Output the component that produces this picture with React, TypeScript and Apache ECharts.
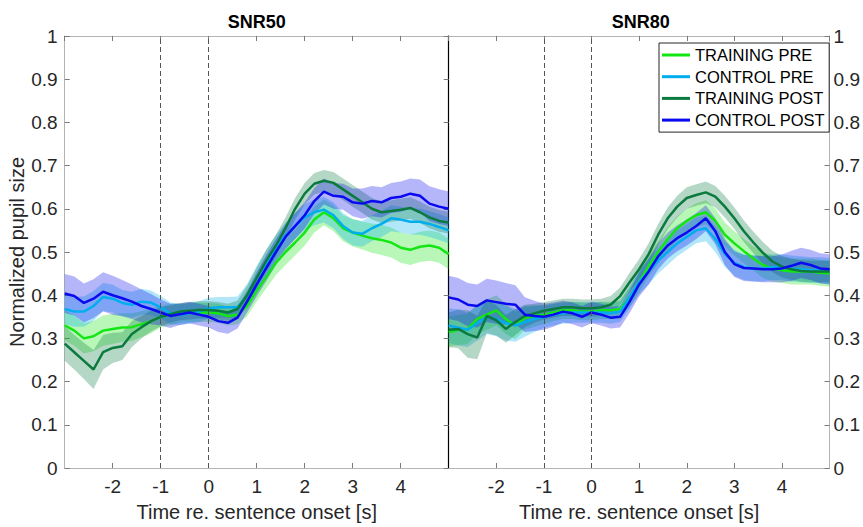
import React, { useEffect, useRef } from "react";
import * as echarts from "echarts";

const TIME = [-3, -2.8, -2.6, -2.4, -2.2, -2, -1.8, -1.6, -1.4, -1.2, -1, -0.8, -0.6, -0.4, -0.2, 0, 0.2, 0.4, 0.6, 0.8, 1, 1.2, 1.4, 1.6, 1.8, 2, 2.2, 2.4, 2.6, 2.8, 3, 3.2, 3.4, 3.6, 3.8, 4, 4.2, 4.4, 4.6, 4.8, 5];

const NAMES = ["TRAINING PRE", "CONTROL PRE", "TRAINING POST", "CONTROL POST"];
const COLORS = ["#14e614", "#00aeef", "#0a7a3e", "#0a0af0"];
const PANEL_TITLES = ["SNR50", "SNR80"];
const X_TICKS = [-2, -1, 0, 1, 2, 3, 4];
const MARKERS = [-1, 0];

// SNR50 means
const s50TrainPre = [0.330, 0.318, 0.300, 0.305, 0.318, 0.322, 0.325, 0.326, 0.333, 0.340, 0.350, 0.355, 0.358, 0.360, 0.360, 0.360, 0.358, 0.352, 0.355, 0.375, 0.410, 0.442, 0.475, 0.500, 0.522, 0.545, 0.575, 0.592, 0.578, 0.555, 0.545, 0.538, 0.532, 0.528, 0.522, 0.510, 0.505, 0.512, 0.515, 0.510, 0.495];
const s50CtrlPre = [0.368, 0.362, 0.362, 0.375, 0.396, 0.392, 0.382, 0.378, 0.385, 0.383, 0.372, 0.358, 0.355, 0.358, 0.362, 0.370, 0.372, 0.372, 0.372, 0.400, 0.440, 0.475, 0.510, 0.538, 0.560, 0.580, 0.592, 0.598, 0.585, 0.560, 0.545, 0.542, 0.555, 0.565, 0.578, 0.575, 0.570, 0.570, 0.565, 0.558, 0.550];
const s50TrainPost = [0.288, 0.268, 0.248, 0.228, 0.268, 0.278, 0.282, 0.310, 0.326, 0.340, 0.350, 0.356, 0.362, 0.364, 0.366, 0.366, 0.364, 0.360, 0.368, 0.400, 0.440, 0.480, 0.515, 0.555, 0.600, 0.635, 0.658, 0.665, 0.660, 0.645, 0.630, 0.615, 0.600, 0.592, 0.595, 0.598, 0.602, 0.592, 0.580, 0.572, 0.568];
const s50CtrlPost = [0.404, 0.398, 0.382, 0.392, 0.408, 0.400, 0.393, 0.385, 0.375, 0.368, 0.360, 0.352, 0.356, 0.360, 0.355, 0.350, 0.340, 0.336, 0.348, 0.385, 0.425, 0.463, 0.500, 0.535, 0.560, 0.585, 0.618, 0.640, 0.630, 0.628, 0.615, 0.612, 0.618, 0.615, 0.625, 0.628, 0.635, 0.630, 0.612, 0.605, 0.600];

// SNR50 half-widths of shaded error bands
const s50TrainPreErr = [0.035, 0.035, 0.035, 0.035, 0.035, 0.035, 0.033, 0.032, 0.030, 0.028, 0.025, 0.025, 0.022, 0.022, 0.022, 0.022, 0.022, 0.022, 0.022, 0.024, 0.025, 0.026, 0.028, 0.030, 0.030, 0.030, 0.030, 0.030, 0.030, 0.030, 0.032, 0.032, 0.034, 0.035, 0.035, 0.035, 0.035, 0.035, 0.035, 0.035, 0.035];
const s50CtrlPreErr = [0.035, 0.035, 0.035, 0.035, 0.033, 0.032, 0.030, 0.030, 0.030, 0.028, 0.026, 0.025, 0.024, 0.024, 0.024, 0.024, 0.024, 0.024, 0.025, 0.026, 0.028, 0.030, 0.030, 0.030, 0.030, 0.030, 0.030, 0.030, 0.030, 0.030, 0.030, 0.030, 0.030, 0.030, 0.030, 0.030, 0.030, 0.030, 0.030, 0.030, 0.030];
const s50TrainPostErr = [0.040, 0.040, 0.042, 0.045, 0.040, 0.035, 0.032, 0.030, 0.026, 0.024, 0.022, 0.020, 0.020, 0.020, 0.020, 0.020, 0.020, 0.020, 0.020, 0.022, 0.024, 0.025, 0.025, 0.025, 0.025, 0.025, 0.025, 0.025, 0.025, 0.025, 0.025, 0.025, 0.025, 0.025, 0.025, 0.025, 0.025, 0.025, 0.025, 0.025, 0.025];
const s50CtrlPostErr = [0.045, 0.045, 0.045, 0.045, 0.045, 0.045, 0.042, 0.040, 0.038, 0.035, 0.030, 0.028, 0.025, 0.025, 0.025, 0.025, 0.025, 0.025, 0.025, 0.025, 0.028, 0.030, 0.030, 0.030, 0.030, 0.030, 0.030, 0.030, 0.030, 0.030, 0.032, 0.035, 0.035, 0.035, 0.035, 0.035, 0.035, 0.038, 0.040, 0.040, 0.040];

// SNR80 means
const s80TrainPre = [0.315, 0.320, 0.322, 0.345, 0.355, 0.365, 0.345, 0.330, 0.348, 0.352, 0.355, 0.360, 0.365, 0.365, 0.362, 0.362, 0.365, 0.365, 0.368, 0.395, 0.430, 0.468, 0.500, 0.530, 0.555, 0.572, 0.585, 0.592, 0.572, 0.540, 0.520, 0.502, 0.485, 0.470, 0.462, 0.458, 0.455, 0.455, 0.455, 0.452, 0.450];
const s80CtrlPre = [0.330, 0.325, 0.320, 0.335, 0.350, 0.345, 0.335, 0.330, 0.338, 0.345, 0.350, 0.355, 0.358, 0.360, 0.360, 0.360, 0.360, 0.358, 0.362, 0.395, 0.430, 0.455, 0.480, 0.500, 0.520, 0.535, 0.550, 0.555, 0.530, 0.495, 0.475, 0.465, 0.462, 0.462, 0.465, 0.465, 0.462, 0.460, 0.458, 0.458, 0.456];
const s80TrainPost = [0.320, 0.322, 0.310, 0.302, 0.352, 0.342, 0.322, 0.338, 0.352, 0.358, 0.364, 0.368, 0.372, 0.372, 0.370, 0.370, 0.372, 0.378, 0.398, 0.430, 0.460, 0.495, 0.540, 0.578, 0.605, 0.625, 0.632, 0.638, 0.628, 0.605, 0.578, 0.548, 0.522, 0.498, 0.478, 0.466, 0.460, 0.456, 0.455, 0.455, 0.455];
const s80CtrlPost = [0.395, 0.390, 0.378, 0.375, 0.388, 0.384, 0.380, 0.378, 0.355, 0.352, 0.350, 0.355, 0.362, 0.358, 0.350, 0.360, 0.355, 0.348, 0.350, 0.385, 0.425, 0.455, 0.490, 0.515, 0.532, 0.545, 0.560, 0.578, 0.548, 0.500, 0.472, 0.463, 0.462, 0.460, 0.460, 0.462, 0.468, 0.475, 0.470, 0.462, 0.460];

// SNR80 half-widths
const s80TrainPreErr = [0.035, 0.035, 0.035, 0.035, 0.035, 0.035, 0.035, 0.032, 0.028, 0.025, 0.022, 0.020, 0.020, 0.020, 0.020, 0.020, 0.020, 0.020, 0.020, 0.022, 0.024, 0.025, 0.026, 0.028, 0.028, 0.028, 0.028, 0.028, 0.028, 0.028, 0.028, 0.028, 0.028, 0.030, 0.030, 0.030, 0.030, 0.030, 0.030, 0.030, 0.030];
const s80CtrlPreErr = [0.040, 0.042, 0.040, 0.040, 0.040, 0.040, 0.040, 0.038, 0.034, 0.030, 0.026, 0.025, 0.024, 0.024, 0.024, 0.024, 0.024, 0.024, 0.024, 0.026, 0.028, 0.030, 0.030, 0.030, 0.030, 0.030, 0.030, 0.030, 0.030, 0.030, 0.030, 0.030, 0.030, 0.030, 0.030, 0.030, 0.030, 0.030, 0.030, 0.030, 0.030];
const s80TrainPostErr = [0.040, 0.045, 0.055, 0.050, 0.040, 0.035, 0.032, 0.030, 0.026, 0.022, 0.020, 0.020, 0.020, 0.020, 0.020, 0.020, 0.020, 0.020, 0.020, 0.022, 0.024, 0.025, 0.025, 0.025, 0.025, 0.025, 0.025, 0.025, 0.025, 0.025, 0.025, 0.025, 0.025, 0.025, 0.025, 0.025, 0.025, 0.025, 0.025, 0.025, 0.025];
const s80CtrlPostErr = [0.050, 0.050, 0.050, 0.050, 0.050, 0.050, 0.048, 0.045, 0.040, 0.035, 0.030, 0.028, 0.025, 0.025, 0.025, 0.025, 0.025, 0.025, 0.025, 0.026, 0.028, 0.030, 0.030, 0.030, 0.030, 0.030, 0.030, 0.030, 0.030, 0.030, 0.030, 0.030, 0.030, 0.030, 0.030, 0.032, 0.035, 0.035, 0.035, 0.035, 0.035];

const PANELS = [
  { means: [s50TrainPre, s50CtrlPre, s50TrainPost, s50CtrlPost], errs: [s50TrainPreErr, s50CtrlPreErr, s50TrainPostErr, s50CtrlPostErr] },
  { means: [s80TrainPre, s80CtrlPre, s80TrainPost, s80CtrlPost], errs: [s80TrainPreErr, s80CtrlPreErr, s80TrainPostErr, s80CtrlPostErr] },
];

const FONT = "'Liberation Sans', Arial, Helvetica, sans-serif";
const AXIS_GRAY = "#b4b4b4";
const TEXT_DARK = "#262626";

const GRID_TOP = 36;
const GRID_H = 436;
const GRID_W = 384;
const GRID_LEFTS = [64.7, 448.7];

export default function App() {
  const ref = useRef<HTMLDivElement>(null);

  useEffect(() => {
    if (!ref.current) return;
    const chart = echarts.init(ref.current, null, { renderer: "svg" });

    const xAxes: any[] = [];
    const yAxes: any[] = [];
    const series: any[] = [];

    PANELS.forEach((panel, p) => {
      const baseX = {
        gridIndex: p,
        type: "value",
        min: -3,
        max: 5,
        interval: 1,
        splitLine: { show: false },
        axisLine: { show: true, onZero: false, lineStyle: { color: AXIS_GRAY, width: 1 } },
        axisTick: { show: true, inside: true, length: 5, lineStyle: { color: "#7a7a7a" } },
      };
      xAxes.push({
        ...baseX,
        position: "bottom",
        name: "Time re. sentence onset [s]",
        nameLocation: "middle",
        nameGap: 34,
        nameTextStyle: { fontSize: 20, color: TEXT_DARK, fontFamily: FONT },
        axisLabel: {
          show: true,
          showMinLabel: false,
          showMaxLabel: false,
          margin: 9,
          fontSize: 19,
          color: TEXT_DARK,
          fontFamily: FONT,
          formatter: (v: number) => (X_TICKS.indexOf(v) >= 0 ? String(v) : ""),
        },
      });
      xAxes.push({ ...baseX, position: "top", axisLabel: { show: false } });

      const baseY = {
        gridIndex: p,
        type: "value",
        min: 0,
        max: 1,
        interval: 0.1,
        splitLine: { show: false },
        axisLine: { show: true, onZero: false, lineStyle: { color: AXIS_GRAY, width: 1 } },
        axisTick: { show: true, inside: true, length: 5, lineStyle: { color: "#7a7a7a" } },
      };
      const labelStyle = { fontSize: 19, color: TEXT_DARK, fontFamily: FONT };
      if (p === 0) {
        yAxes.push({
          ...baseY,
          position: "left",
          name: "Normalized pupil size",
          nameLocation: "middle",
          nameGap: 35,
          nameTextStyle: { fontSize: 20, color: TEXT_DARK, fontFamily: FONT },
          axisLabel: { show: true, margin: 7, ...labelStyle },
        });
        yAxes.push({ ...baseY, position: "right", axisLabel: { show: false } });
      } else {
        yAxes.push({
          ...baseY,
          position: "left",
          axisLine: { show: true, onZero: false, lineStyle: { color: "#000000", width: 1.2 } },
          axisTick: { show: false },
          axisLabel: { show: false },
        });
        yAxes.push({ ...baseY, position: "right", axisLabel: { show: true, margin: 4, ...labelStyle } });
      }

      const xi = p * 2;
      const yi = p * 2;

      // dashed reference lines
      series.push({
        type: "line",
        name: "markers" + p,
        xAxisIndex: xi,
        yAxisIndex: yi,
        data: [],
        silent: true,
        markLine: {
          silent: true,
          symbol: "none",
          label: { show: false },
          lineStyle: { color: "#555555", width: 1, type: [5, 3] },
          data: MARKERS.map((m) => ({ xAxis: m })),
        },
      });

      panel.means.forEach((mean, k) => {
        const err = panel.errs[k];
        const color = COLORS[k];
        series.push({
          type: "custom",
          name: NAMES[k] + " band " + p,
          xAxisIndex: xi,
          yAxisIndex: yi,
          silent: true,
          clip: true,
          data: TIME.map((t, i) => [t, mean[i] - err[i], mean[i] + err[i]]),
          encode: { x: 0, y: [1, 2] },
          renderItem: (params: any, api: any) => {
            if (params.dataIndex !== 0) return null;
            const upper = TIME.map((t, i) => api.coord([t, mean[i] + err[i]]));
            const lower = TIME.map((t, i) => api.coord([t, mean[i] - err[i]])).reverse();
            return {
              type: "polygon",
              shape: { points: upper.concat(lower) },
              style: { fill: color, opacity: 0.3, stroke: null },
            };
          },
        });
        series.push({
          type: "line",
          name: NAMES[k],
          xAxisIndex: xi,
          yAxisIndex: yi,
          data: TIME.map((t, i) => [t, mean[i]]),
          symbol: "none",
          showSymbol: false,
          color,
          lineStyle: { color, width: 2.5 },
          itemStyle: { color },
        });
      });
    });

    const option: any = {
      animation: false,
      backgroundColor: "#ffffff",
      grid: GRID_LEFTS.map((l) => ({ left: l, top: GRID_TOP, width: GRID_W, height: GRID_H })),
      xAxis: xAxes,
      yAxis: yAxes,
      legend: {
        data: NAMES,
        orient: "vertical",
        left: 659,
        top: 43,
        icon: "rect",
        itemWidth: 28,
        itemHeight: 3,
        itemGap: 4.7,
        padding: [3.5, 4, 3.5, 3],
        borderColor: TEXT_DARK,
        borderWidth: 1,
        borderRadius: 0,
        backgroundColor: "#ffffff",
        selectedMode: false,
        textStyle: { fontSize: 16.5, color: "#000000", fontFamily: FONT, lineHeight: 16 },
      },
      graphic: PANEL_TITLES.map((t, p) => ({
        type: "text",
        x: GRID_LEFTS[p] + GRID_W / 2,
        y: 22,
        style: {
          text: t,
          textAlign: "center",
          textVerticalAlign: "middle",
          font: `bold 18px ${FONT}`,
          fill: "#000000",
        },
      })),
      series,
    };

    chart.setOption(option);
    return () => chart.dispose();
  }, []);

  return <div ref={ref} style={{ position: "fixed", left: 0, top: 0, width: 863, height: 527 }} />;
}
